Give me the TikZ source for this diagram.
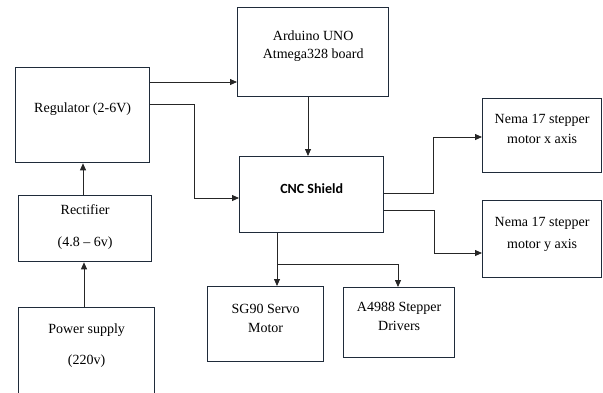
\documentclass[tikz,border=0pt]{standalone}
\usepackage{fontspec}
\setmainfont{Liberation Serif}
\newfontfamily\cncfont{Carlito}
\usetikzlibrary{arrows.meta}
\definecolor{boxline}{HTML}{1F2B3A}
\tikzset{
  blk/.style={draw=boxline, line width=1.3pt, fill=white, inner sep=0pt, align=center},
  conn/.style={draw=black!85, line width=0.8pt, -{Triangle[length=7pt,width=6pt]}},
}
\begin{document}
\begin{tikzpicture}[x=1pt,y=-1pt]
\useasboundingbox (0,0) rectangle (603,392);
% boxes
\node[blk, minimum width=151pt, minimum height=89pt, anchor=north west] (ard) at (237,7) {};
\node[font=\fontsize{14}{18}\selectfont, align=center] (ardt) at (ard.center |- 0,46) {Arduino UNO\\Atmega328 board};
\node[blk, minimum width=134pt, minimum height=95pt, anchor=north west] (reg) at (15,67) {};
\node[font=\fontsize{14}{18}\selectfont] (regt) at (reg.center |- 0,109) {Regulator (2-6V)};
\node[blk, minimum width=133pt, minimum height=66pt, anchor=north west] (rec) at (18,195) {};
\node[font=\fontsize{14}{32}\selectfont, align=center] (rect) at (rec.center |- 0,227) {Rectifier\\(4.8 -- 6v)};
\node[blk, minimum width=136pt, minimum height=90pt, anchor=north west] (pow) at (18,307) {};
\node[font=\fontsize{14}{31}\selectfont, align=center] (powt) at (pow.center |- 0,346) {Power supply\\(220v)};
\node[blk, minimum width=144pt, minimum height=76pt, anchor=north west] (cnc) at (239,156) {};
\node[font=\cncfont\bfseries\fontsize{14}{18}\selectfont] (cnct) at (cnc.center |- 0,189) {CNC Shield};
\node[blk, minimum width=119pt, minimum height=74pt, anchor=north west] (nx) at (482,98) {};
\node[font=\fontsize{14}{20}\selectfont, align=center] (nxt) at (nx.center |- 0,129) {Nema 17 stepper\\motor x axis};
\node[blk, minimum width=119pt, minimum height=77pt, anchor=north west] (ny) at (482,200) {};
\node[font=\fontsize{14}{22}\selectfont, align=center] (nyt) at (ny.center |- 0,234) {Nema 17 stepper\\motor y axis};
\node[blk, minimum width=116pt, minimum height=75pt, anchor=north west] (sg) at (207,286) {};
\node[font=\fontsize{14}{19}\selectfont, align=center] (sgt) at (sg.center |- 0,318) {SG90 Servo\\Motor};
\node[blk, minimum width=111pt, minimum height=70pt, anchor=north west] (a49) at (343,287) {};
\node[font=\fontsize{14}{19}\selectfont, align=center] (a49t) at (a49.center |- 0,316) {A4988 Stepper\\Drivers};
% connectors
\draw[conn] (reg.east |- 0,82) -- (ard.west |- 0,82);
\draw[conn] (reg.east |- 0,104) -| (194,198) -- (cnc.west |- 0,198);
\draw[conn] (ard.south -| 308,0) -- (cnc.north -| 308,0);
\draw[conn] (rec.north -| 83,0) -- (reg.south -| 83,0);
\draw[conn] (pow.north -| 84,0) -- (rec.south -| 84,0);
\draw[conn] (cnc.east |- 0,193) -| (433,137) -- (nx.west |- 0,137);
\draw[conn] (cnc.east |- 0,210) -| (434,253) -- (ny.west |- 0,253);
\coordinate (br) at (277,264);
\draw[conn] (cnc.south -| br) -- (sg.north -| br);
\draw[conn] (br) -| (a49.north -| 398,0);
\end{tikzpicture}
\end{document}
